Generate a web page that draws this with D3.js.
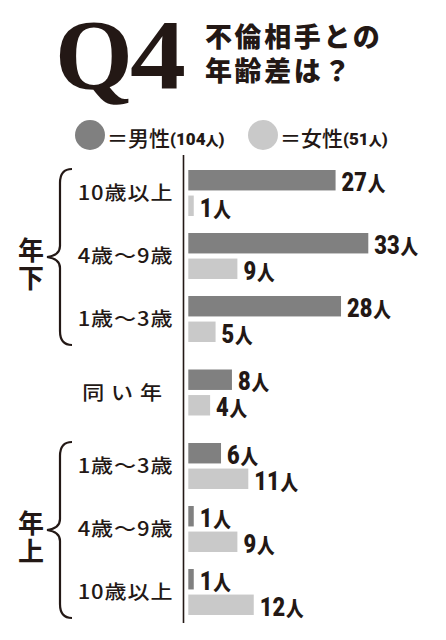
<!DOCTYPE html>
<html><head><meta charset="utf-8">
<script src="https://cdn.jsdelivr.net/npm/d3@7"></script>
<style>
html,body{margin:0;padding:0;background:#fff;}
svg{display:block;}
</style></head>
<body>
<svg id="c" width="446" height="640"></svg>
<script>
// ---- data ----
const categories = ["10歳以上","4歳〜9歳","1歳〜3歳","同い年","1歳〜3歳","4歳〜9歳","10歳以上"];
const sectionOf = [0,0,0,1,2,2,2];
const sectionLabels = ["年下", null, "年上"];
const maleValues = [27,33,28,8,6,1,1];
const femaleValues = [1,9,5,4,11,9,12];
const seriesNames = ["男性","女性"];
const seriesTotals = [104,51];
const unit = "人";

const INK = "#231815";
const colors = ["#808080","#c9c9c9"];
const JP = "'Noto Sans CJK JP','Noto Sans',sans-serif";
const NUM = "Roboto,'Liberation Sans',sans-serif";

const svg = d3.select("#c");

// ---- title ----
svg.append("text").attr("x",55).attr("y",88)
  .attr("font-family","'Liberation Serif','DejaVu Serif',serif").attr("font-weight","bold")
  .attr("font-size",100).attr("fill",INK).text("Q");
svg.append("text").attr("x",130).attr("y",88)
  .attr("font-family","'Liberation Serif','DejaVu Serif',serif").attr("font-weight","bold")
  .attr("font-size",100).attr("fill",INK).attr("transform","translate(130,88) scale(1.12,1) translate(-130,-88)").text("4");
svg.append("text").attr("x",205).attr("y",47).attr("font-family",JP).attr("font-weight",900)
  .attr("font-size",27).attr("letter-spacing",2.6).attr("fill",INK).text("不倫相手との");
svg.append("text").attr("x",205).attr("y",81).attr("font-family",JP).attr("font-weight",900)
  .attr("font-size",27).attr("letter-spacing",2.6).attr("fill",INK).text("年齢差は？");

// ---- legend ----
const legendX = [90,263];
seriesNames.forEach((name,i)=>{
  svg.append("circle").attr("cx",legendX[i]).attr("cy",135).attr("r",15).attr("fill",colors[i]);
  const t = svg.append("text").attr("x",legendX[i]+17).attr("y",146).attr("fill",INK);
  t.append("tspan").attr("font-family",JP).attr("font-weight",500).attr("font-size",21).text("＝"+name);
  t.append("tspan").attr("font-family",NUM).attr("font-weight",900).attr("font-size",17).attr("dy",-1).text("("+seriesTotals[i]);
  t.append("tspan").attr("font-family",JP).attr("font-weight",900).attr("font-size",13).text(unit);
  t.append("tspan").attr("font-family",NUM).attr("font-weight",900).attr("font-size",17).text(")");
});

// ---- scales ----
const x = d3.scaleLinear().domain([0,33]).range([188.3,368.3]);
const sectionGap = 10.5;
const y = d3.scaleBand().domain(d3.range(categories.length)).range([170,170+63*categories.length]).paddingInner(0);
const yTop = i => y(i) + sectionOf[i]*sectionGap;
const ys = d3.scaleBand().domain([0,1]).range([0,46]).paddingInner(0.2);

// axis line
svg.append("line").attr("x1",183.5).attr("x2",183.5).attr("y1",155).attr("y2",623)
  .attr("stroke",INK).attr("stroke-width",1.6);

const rows = categories.map((c,i)=>({c,i,vals:[maleValues[i],femaleValues[i]]}));

const g = svg.append("g");
rows.forEach(r=>{
  r.vals.forEach((v,s)=>{
    const top = yTop(r.i)+ys(s);
    g.append("rect").attr("x",x(0)).attr("y",top).attr("width",x(v)-x(0))
      .attr("height",ys.bandwidth()).attr("fill",colors[s]);
    const t = g.append("text")
      .attr("transform",`translate(${x(v)+6},${top+ys.bandwidth()+0.5}) scale(0.84,1)`)
      .attr("fill",INK);
    t.append("tspan").attr("font-family",NUM).attr("font-weight",900).attr("font-size",26).text(v);
    t.append("tspan").attr("font-family",JP).attr("font-weight",900).attr("font-size",21).attr("dx",1).text(unit);
  });
  // category label
  const cx = 125.5, cy = yTop(r.i)+30;
  svg.append("text").attr("transform",`translate(${cx},${cy}) scale(1.13,1)`)
    .attr("text-anchor","middle").attr("font-family",JP).attr("font-weight",500)
    .attr("font-size",19.5).attr("letter-spacing",r.c.length===3?6:0.8).attr("fill",INK).text(r.c);
});

// ---- braces ----
sectionLabels.forEach((lab,si)=>{
  if(!lab) return;
  const idx = d3.range(categories.length).filter(i=>sectionOf[i]===si);
  const t = yTop(idx[0]) - 1;
  const b = yTop(idx[idx.length-1]) + ys(1) + ys.bandwidth() + 3;
  const m = (t+b)/2;
  const p = d3.path();
  p.moveTo(72,t);
  p.bezierCurveTo(64,t,60,t+5,60,t+14);
  p.lineTo(60,m-11);
  p.bezierCurveTo(60,m-4,55,m-1,47,m);
  p.bezierCurveTo(55,m+1,60,m+4,60,m+11);
  p.lineTo(60,b-14);
  p.bezierCurveTo(60,b-5,64,b,72,b);
  svg.append("path").attr("d",p.toString()).attr("fill","none").attr("stroke",INK).attr("stroke-width",2.2);
  svg.append("text").attr("x",31).attr("y",m+3).attr("font-family",JP).attr("font-weight",700)
    .attr("font-size",26).attr("text-anchor","middle").attr("fill",INK).text(lab[0]);
  svg.append("text").attr("x",31).attr("y",m+31).attr("font-family",JP).attr("font-weight",700)
    .attr("font-size",26).attr("text-anchor","middle").attr("fill",INK).text(lab[1]);
});
</script>
</body></html>
